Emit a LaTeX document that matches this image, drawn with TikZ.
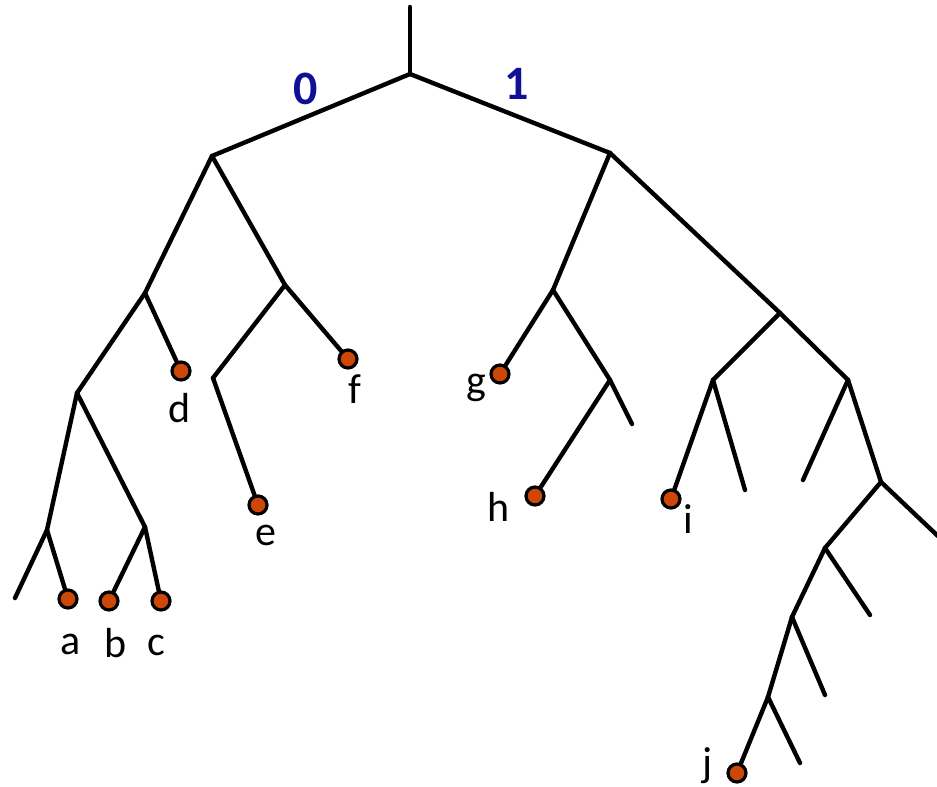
\documentclass[tikz,border=0pt]{standalone}
\usepackage{fontspec}
\setmainfont{Carlito}
\begin{document}
\begin{tikzpicture}[x=1pt,y=-1pt,
  br/.style={line width=4.4pt,line cap=round},
  dot/.style={circle,draw=black,line width=3.2pt,fill={rgb,255:red,205;green,72;blue,8},minimum size=18pt,inner sep=0pt},
  lbl/.style={font=\fontsize{42}{42}\selectfont,inner sep=0pt},
  bit/.style={font=\fontsize{48}{48}\selectfont\bfseries,text={rgb,255:red,16;green,16;blue,150},inner sep=0pt}]
\useasboundingbox (0,0) rectangle (937,787);
% internal points
\coordinate (top) at (410,7);
\coordinate (R) at (410,74);
\coordinate (L) at (212,156);
\coordinate (Rt) at (610,153);
\coordinate (LL) at (145,293);
\coordinate (LLL) at (77,393);
\coordinate (A1) at (47,530);
\coordinate (A1f) at (15,598);
\coordinate (B1) at (145,527);
\coordinate (LR) at (285,285);
\coordinate (LRL) at (213,378);
\coordinate (RL) at (553,290);
\coordinate (RLR) at (610,380);
\coordinate (RLRf) at (632,424);
\coordinate (RR) at (780,313);
\coordinate (RRL) at (713,380);
\coordinate (RRLf) at (745,490);
\coordinate (RRR) at (848,380);
\coordinate (RRRf) at (803,480);
\coordinate (X) at (881,482);
\coordinate (Xf) at (940,538);
\coordinate (Y) at (825,548);
\coordinate (Yf) at (870,615);
\coordinate (Z) at (792,617);
\coordinate (Zf) at (825,695);
\coordinate (W) at (768,697);
\coordinate (Wf) at (800,763);
% leaves
\node[dot] (a) at (68,599) {};
\node[dot] (b) at (109,601) {};
\node[dot] (c) at (161,601) {};
\node[dot] (d) at (181,371) {};
\node[dot] (e) at (258,505) {};
\node[dot] (f) at (348,359) {};
\node[dot] (g) at (500,374) {};
\node[dot] (h) at (535,496) {};
\node[dot] (i) at (671,499) {};
\node[dot] (j) at (737,773) {};
% edges
\draw[br] (top) -- (R);
\draw[br] (R) -- (L);
\draw[br] (R) -- (Rt);
\draw[br] (L) -- (LL);
\draw[br] (LL) -- (LLL);
\draw[br] (LLL) -- (A1);
\draw[br] (A1) -- (A1f);
\draw[br] (A1) -- (a);
\draw[br] (LLL) -- (B1);
\draw[br] (B1) -- (b);
\draw[br] (B1) -- (c);
\draw[br] (LL) -- (d);
\draw[br] (L) -- (LR);
\draw[br] (LR) -- (LRL);
\draw[br] (LRL) -- (e);
\draw[br] (LR) -- (f);
\draw[br] (Rt) -- (RL);
\draw[br] (RL) -- (g);
\draw[br] (RL) -- (RLR);
\draw[br] (RLR) -- (h);
\draw[br] (RLR) -- (RLRf);
\draw[br] (Rt) -- (RR);
\draw[br] (RR) -- (RRL);
\draw[br] (RRL) -- (i);
\draw[br] (RRL) -- (RRLf);
\draw[br] (RR) -- (RRR);
\draw[br] (RRR) -- (RRRf);
\draw[br] (RRR) -- (X);
\draw[br] (X) -- (Xf);
\draw[br] (X) -- (Y);
\draw[br] (Y) -- (Yf);
\draw[br] (Y) -- (Z);
\draw[br] (Z) -- (Zf);
\draw[br] (Z) -- (W);
\draw[br] (W) -- (Wf);
\draw[br] (W) -- (j);
% labels
\node[lbl] (la) at (71,644) {a};
\node[lbl] (lb) at (116,643) {b};
\node[lbl] (lc) at (156,645) {c};
\node[lbl] (ld) at (180,408) {d};
\node[lbl] (le) at (266,535) {e};
\node[lbl] (lf) at (355,389) {f};
\node[lbl] (lg) at (476,388) {g};
\node[lbl] (lh) at (499,507) {h};
\node[lbl] (li) at (688,519) {i};
\node[lbl] (lj) at (708,766) {j};
\node[bit] (b0) at (306,89) {0};
\node[bit] (b1) at (517,84) {1};
\end{tikzpicture}
\end{document}
